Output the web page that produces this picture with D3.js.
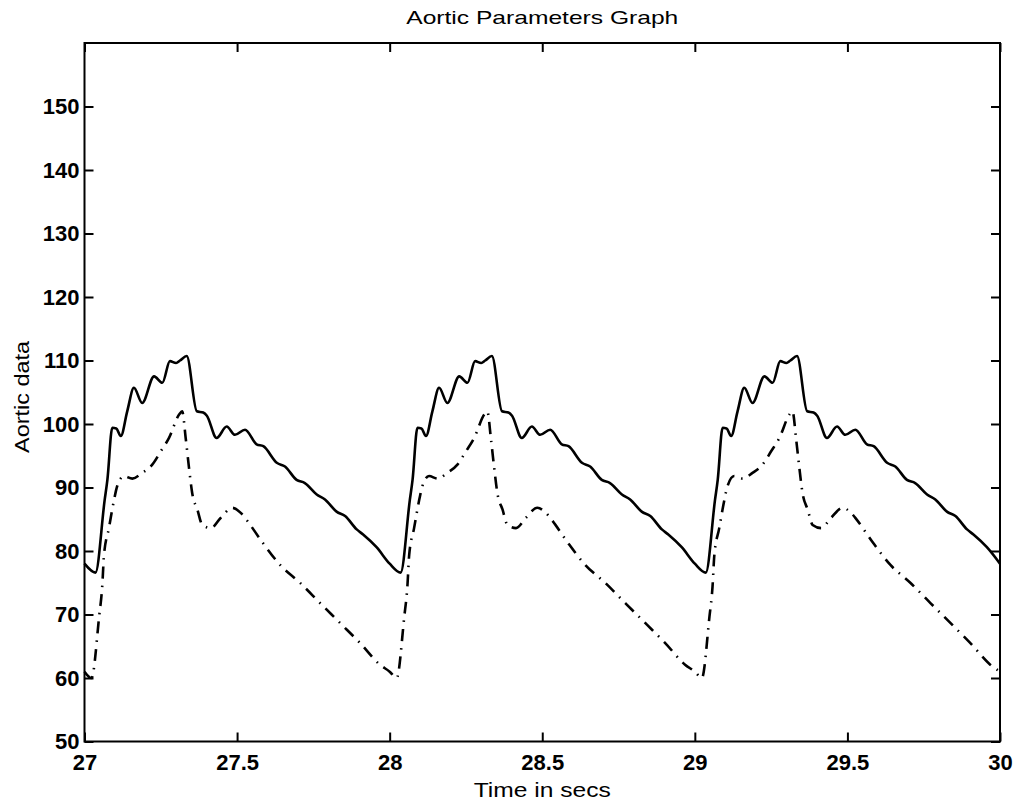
<!DOCTYPE html>
<html>
<head>
<meta charset="utf-8">
<script src="https://cdn.jsdelivr.net/npm/d3@7"></script>
<style>
  body { margin: 0; background: #fff; }
  text { font-family: "Liberation Sans", Arial, Helvetica, sans-serif; fill: #000; }
</style>
</head>
<body>
<div class="chart"></div>
<script>
// beats start at these times, every beat is the same shape
const beatStarts = [27, 28, 29];

// solid curve: time into the beat (s) and value
const solidPhase = [0.000, 0.036, 0.066, 0.075, 0.091, 0.104, 0.119, 0.140, 0.162, 0.189, 0.228, 0.255, 0.280, 0.300, 0.313, 0.335,
  0.368, 0.389, 0.401, 0.433, 0.466, 0.493, 0.526, 0.564, 0.586, 0.630, 0.657, 0.695, 0.722, 0.761, 0.788, 0.826, 0.854, 0.892, 0.913, 0.957, 1.000];
const solidValue = [78.0, 76.6, 88.0, 91.2, 99.4, 99.3, 98.1, 102.0, 105.7, 103.3, 107.5, 106.5, 109.9, 109.6, 110.0, 110.7,
  102.0, 101.8, 101.3, 97.8, 99.6, 98.3, 99.1, 96.8, 96.5, 93.9, 93.3, 91.2, 90.7, 88.9, 88.1, 86.2, 85.5, 83.4, 82.6, 80.6, 78.0];

// dash-dot curve
const dashPhase = [0.000, 0.023, 0.048, 0.058, 0.064, 0.080, 0.097, 0.107, 0.129, 0.157, 0.189, 0.222, 0.250, 0.277, 0.310, 0.320,
  0.332, 0.342, 0.353, 0.370, 0.386, 0.414, 0.446, 0.484, 0.512, 0.531, 0.581, 0.641, 0.706, 0.772, 0.843, 0.903, 0.968, 1.000];
const dashValue = [61.0, 60.0, 69.7, 74.4, 79.4, 83.6, 88.1, 90.2, 91.8, 91.4, 92.3, 93.6, 95.7, 97.8, 101.5, 102.0,
  97.6, 93.3, 89.1, 86.5, 84.1, 83.6, 85.2, 86.8, 86.0, 84.9, 81.5, 77.8, 75.0, 71.8, 68.4, 65.5, 62.1, 61.0];

const xTicks = [27, 27.5, 28, 28.5, 29, 29.5, 30];
const yTicks = [50, 60, 70, 80, 90, 100, 110, 120, 130, 140, 150];

const width = 1016;
const height = 803;
const margin = {top: 43, right: 16, bottom: 61.5, left: 84.5};

const x = d3.scaleLinear().domain([27, 30]).range([margin.left, width - margin.right]);
const y = d3.scaleLinear().domain([50, 160]).range([height - margin.bottom, margin.top]);

const svg = d3.select('.chart')
              .append('svg')
              .attr('width', width)
              .attr('height', height);

const tickLen = 9;

// ticks on all four sides, pointing in (matlab box)
svg.append('g')
   .attr('transform', `translate(0,${height - margin.bottom})`)
   .call(d3.axisBottom(x).tickValues(xTicks).tickSize(-tickLen).tickPadding(13).tickFormat(d3.format('')))
   .call(g => g.select('.domain').remove())
   .selectAll('text').attr('font-size', 22).attr('font-weight', 'bold').attr('dy', '0.71em');

svg.append('g')
   .attr('transform', `translate(0,${margin.top})`)
   .call(d3.axisTop(x).tickValues(xTicks).tickSize(-tickLen).tickFormat(''))
   .call(g => g.select('.domain').remove());

svg.append('g')
   .attr('transform', `translate(${margin.left},0)`)
   .call(d3.axisLeft(y).tickValues(yTicks).tickSize(-tickLen).tickPadding(5))
   .call(g => g.select('.domain').remove())
   .selectAll('text').attr('font-size', 22).attr('font-weight', 'bold');

svg.append('g')
   .attr('transform', `translate(${width - margin.right},0)`)
   .call(d3.axisRight(y).tickValues(yTicks).tickSize(-tickLen).tickFormat(''))
   .call(g => g.select('.domain').remove());

svg.selectAll('.tick line').attr('stroke', '#000').attr('stroke-width', 2);

svg.append('rect')
   .attr('x', margin.left)
   .attr('y', margin.top)
   .attr('width', width - margin.left - margin.right)
   .attr('height', height - margin.top - margin.bottom)
   .attr('fill', 'none')
   .attr('stroke', '#000')
   .attr('stroke-width', 2);

const line = d3.line()
               .x(d => x(d[0]))
               .y(d => y(d[1]))
               .curve(d3.curveMonotoneX);

function beats(phase, value) {
  const pts = [];
  beatStarts.forEach((s, k) => {
    phase.forEach((p, i) => {
      if (k > 0 && i === 0) return;
      pts.push([s + p, value[i]]);
    });
  });
  return pts;
}

svg.append('path')
   .datum(beats(dashPhase, dashValue))
   .attr('fill', 'none')
   .attr('stroke', '#000')
   .attr('stroke-width', 2.6)
   .attr('stroke-dasharray', '12,7,1.5,7')
   .attr('d', line);

svg.append('path')
   .datum(beats(solidPhase, solidValue))
   .attr('fill', 'none')
   .attr('stroke', '#000')
   .attr('stroke-width', 2.6)
   .attr('stroke-linejoin', 'round')
   .attr('d', line);

const cx = (margin.left + width - margin.right) / 2;

svg.append('text')
   .attr('x', cx)
   .attr('y', 24)
   .attr('text-anchor', 'middle')
   .attr('font-size', 19)
   .attr('textLength', 272)
   .attr('lengthAdjust', 'spacingAndGlyphs')
   .text('Aortic Parameters Graph');

svg.append('text')
   .attr('x', cx)
   .attr('y', 797)
   .attr('text-anchor', 'middle')
   .attr('font-size', 21)
   .attr('textLength', 137)
   .attr('lengthAdjust', 'spacingAndGlyphs')
   .text('Time in secs');

svg.append('text')
   .attr('transform', `translate(29,397) rotate(-90)`)
   .attr('text-anchor', 'middle')
   .attr('font-size', 20)
   .attr('textLength', 112)
   .attr('lengthAdjust', 'spacingAndGlyphs')
   .text('Aortic data');
</script>
</body>
</html>
